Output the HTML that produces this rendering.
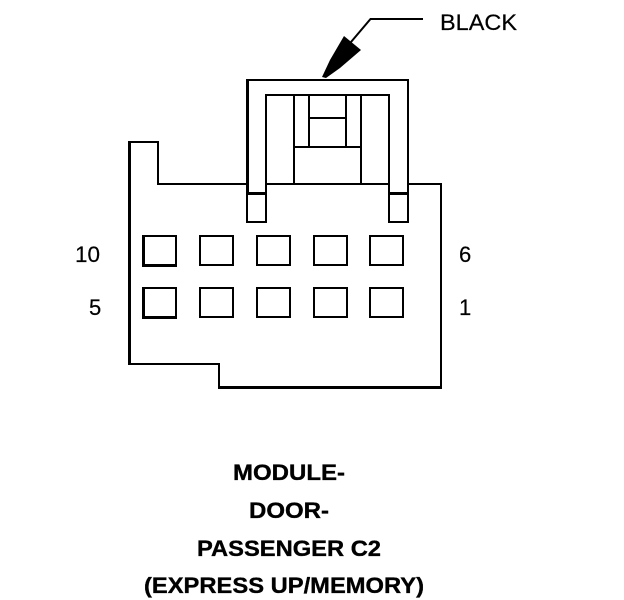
<!DOCTYPE html>
<html><head><meta charset="utf-8"><style>
html,body{margin:0;padding:0;background:#fff}
svg{display:block}
text{font-family:"Liberation Sans",Arial,sans-serif;fill:#000}
.b{font-weight:bold;font-size:22px;text-anchor:middle;stroke:#000;stroke-width:.35}
.n{font-size:22px;stroke:#000;stroke-width:.2}
</style></head><body>
<svg width="624" height="600" viewBox="0 0 624 600" xmlns="http://www.w3.org/2000/svg">
<g fill="none" stroke="#000" stroke-width="2">
<path d="M247 184H158V142H129.500V364H219V387.500H441V184H408"/>
<path d="M129.500 141V365" stroke-width="3"/>
<path d="M218 387.500H442" stroke-width="3"/>
<path d="M247.500 193V80H408V193"/>
<path d="M247.500 79V194" stroke-width="3"/>
<path d="M266 193V95H389V193"/>
<path d="M247 193H266V222H247Z"/>
<path d="M389 193H408V222H389Z"/>
<path d="M266 184H389"/>
<path d="M294 95V184M361 95V184M309 95V147M346 95V147M309 118H346M294 147H361"/>
<rect x="143" y="236" width="33" height="29"/>
<path d="M143.500 235V266M142 265.500H177M143.500 287V318M142 317.500H177" stroke-width="3"/>
<rect x="200" y="236" width="33" height="29"/>
<rect x="257" y="236" width="33" height="29"/>
<rect x="314" y="236" width="33" height="29"/>
<rect x="370" y="236" width="33" height="29"/>
<rect x="143" y="288" width="33" height="29"/>
<rect x="200" y="288" width="33" height="29"/>
<rect x="257" y="288" width="33" height="29"/>
<rect x="314" y="288" width="33" height="29"/>
<rect x="370" y="288" width="33" height="29"/>
</g>
<rect x="246" y="192" width="21" height="3" fill="#000"/>
<rect x="388" y="192" width="21" height="3" fill="#000"/>
<path d="M423 19H370.500L351 42" fill="none" stroke="#000" stroke-width="2"/>
<path d="M322 77L330 60L344 36L361 50L340 68L326 78Z" fill="#000"/>
<text class="n" x="440" y="30" textLength="77" lengthAdjust="spacingAndGlyphs">BLACK</text>
<text class="n" x="75" y="262" textLength="25" lengthAdjust="spacingAndGlyphs">10</text>
<text class="n" x="89" y="315">5</text>
<text class="n" x="459" y="262">6</text>
<text class="n" x="459" y="315">1</text>
<text class="b" x="289" y="480" textLength="112" lengthAdjust="spacingAndGlyphs">MODULE-</text>
<text class="b" x="289" y="518" textLength="80" lengthAdjust="spacingAndGlyphs">DOOR-</text>
<text class="b" x="289" y="556" textLength="184" lengthAdjust="spacingAndGlyphs">PASSENGER C2</text>
<text class="b" x="284" y="593" textLength="280" lengthAdjust="spacingAndGlyphs">(EXPRESS UP/MEMORY)</text>
</svg>
</body></html>
